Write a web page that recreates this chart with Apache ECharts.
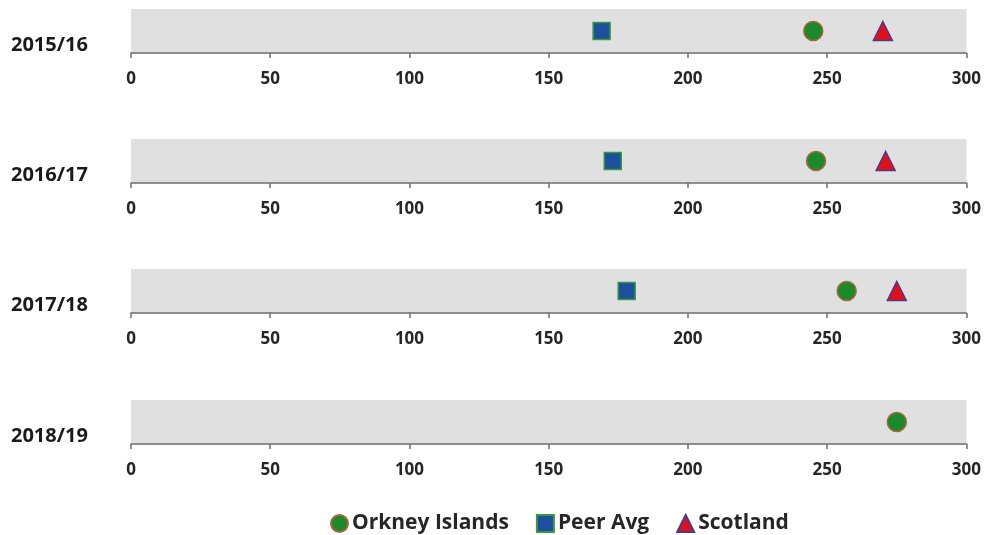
<!DOCTYPE html>
<html><head><meta charset="utf-8">
<script src="https://cdn.jsdelivr.net/npm/echarts@6/dist/echarts.min.js"></script>
<style>html,body{margin:0;padding:0;background:#fff}#c{width:984px;height:535px}</style>
</head><body><div id="c"></div>
<script>
const years = ['2015/16','2016/17','2017/18','2018/19'];
const orkney = [245, 246, 257, 275];
const peerAvg = [169, 173, 178, null];
const scotland = [270, 271, 275, null];
const xTicks = [0, 50, 100, 150, 200, 250, 300];

const tops = [9, 139, 269, 400];
const gridH = 44;
const FONT = '"Open Sans"';

const grids = [], xAxes = [], yAxes = [], series = [], graphics = [];
const styles = {
  'Orkney Islands': {symbol:'circle', size:19, color:'#1b8a2a', border:'#a8673a'},
  'Peer Avg': {symbol:'rect', size:17, color:'#1c4f9e', border:'#3a9a3a'},
  'Scotland': {symbol:'triangle', size:19, color:'#e2101c', border:'#4a3a8a'}
};
years.forEach((y, i) => {
  grids.push({left:131, right:17, top:tops[i], height:gridH, show:true, backgroundColor:'#e0e0e0', borderWidth:0});
  xAxes.push({type:'value', gridIndex:i, min:0, max:300, interval:50,
    axisLine:{show:true, lineStyle:{color:'#6e6e6e', width:1.5}},
    axisTick:{show:true, length:5, lineStyle:{color:'#6e6e6e', width:1.5}},
    splitLine:{show:false},
    axisLabel:{color:'#262626', fontFamily:FONT, fontWeight:'bold', fontSize:17, margin:18,
      formatter: v => xTicks.includes(v) ? String(v) : ''}});
  yAxes.push({type:'value', gridIndex:i, min:0, max:1, show:false});
  const sets = [['Orkney Islands', orkney], ['Peer Avg', peerAvg], ['Scotland', scotland]];
  sets.forEach(([name, arr]) => {
    const s = styles[name];
    series.push({name, type:'scatter', xAxisIndex:i, yAxisIndex:i,
      symbol:s.symbol, symbolSize:s.size,
      itemStyle:{color:s.color, borderColor:s.border, borderWidth:1.5, opacity:1},
      data: arr[i] == null ? [] : [[arr[i], 0.5]], z:5});
  });
  graphics.push({type:'text', left:11, top:tops[i] + 26,
    style:{text:y, fill:'#1a1a1a', font:'bold 20px ' + FONT}});
});

const chart = echarts.init(document.getElementById('c'), null, {renderer:'canvas'});
chart.setOption({
  animation:false,
  grid:grids, xAxis:xAxes, yAxis:yAxes, series,
  graphic:graphics,
  legend:{top:508, left:325, itemGap:27, itemWidth:17, itemHeight:17,
    data:[{name:'Orkney Islands', icon:'circle'},{name:'Peer Avg', icon:'rect'},{name:'Scotland', icon:'triangle'}],
    textStyle:{color:'#262626', fontFamily:FONT, fontWeight:'bold', fontSize:21, padding:[0,0,0,-1]}}
});
</script></body></html>
